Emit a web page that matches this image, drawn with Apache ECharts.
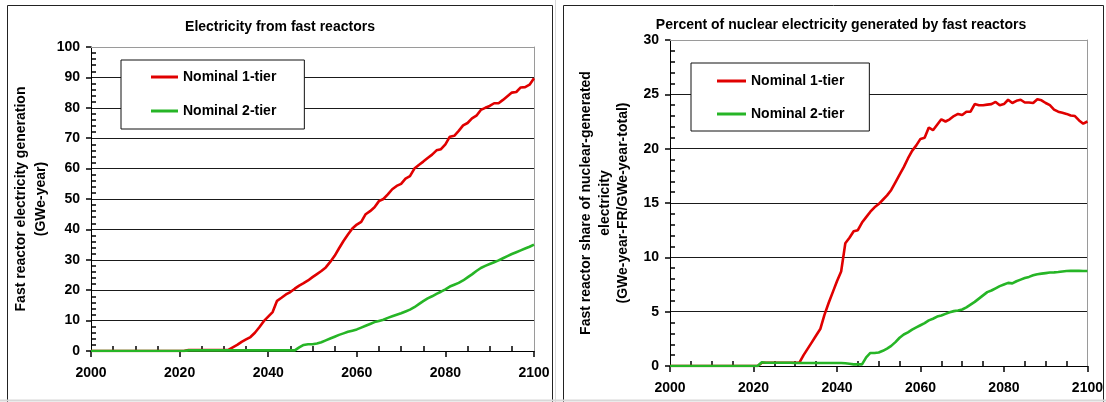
<!DOCTYPE html>
<html>
<head>
<meta charset="utf-8">
<script src="https://cdn.jsdelivr.net/npm/echarts@6/dist/echarts.min.js"></script>
<style>
html,body{margin:0;padding:0;background:#fff;}
#c{width:1106px;height:402px;}
</style>
</head>
<body>
<div id="c"></div>
<script>
// ---------- data ----------
const startYear = 2000, endYear = 2100;
const seriesNames = ['Nominal 1-tier', 'Nominal 2-tier'];
const leftTitle = 'Electricity from fast reactors';
const rightTitle = 'Percent of nuclear electricity generated by fast reactors';
const leftYName = 'Fast reactor electricity generation\n(GWe-year)';
const rightYName = 'Fast reactor share of nuclear-generated\nelectricity\n(GWe-year-FR/GWe-year-total)';

// GWe-year, one value per year 2000..2100
const leftTier1 = [
  0,0,0,0,0,0,0,0,0,0,
  0,0,0,0,0,0,0,0,0,0,
  0,0,0.35,0.35,0.35,0.35,0.35,0.35,0.35,0.35,
  0.35,0.4,1.2,2,3,3.8,4.6,6,7.8,9.8,
  11.3,12.8,16.5,17.5,18.6,19.4,20.5,21.5,22.3,23.2,
  24.3,25.3,26.3,27.5,29.3,31.3,33.8,36.2,38.3,40.3,
  41.6,42.5,45,46,47.3,49.3,50,51.5,53.2,54.3,
  55,56.7,57.5,60,61.2,62.3,63.5,64.6,66,66.4,
  68,70.5,70.8,72.4,74.2,75,76.5,77.4,79.3,80,
  80.6,81.5,81.5,82.6,83.8,85,85.2,86.7,86.8,87.6,
  89.7
];
const leftTier2 = [
  0,0,0,0,0,0,0,0,0,0,
  0,0,0,0,0,0,0,0,0,0,
  0,0,0.2,0.2,0.2,0.2,0.2,0.2,0.2,0.2,
  0.2,0.2,0.2,0.2,0.2,0.2,0.2,0.2,0.2,0.2,
  0.2,0.2,0.2,0.2,0.2,0.2,0.2,1.2,2.0,2.2,
  2.2,2.5,2.9,3.5,4.1,4.7,5.3,5.8,6.3,6.7,
  7.1,7.7,8.3,8.9,9.5,9.9,10.3,10.9,11.4,11.9,
  12.4,13,13.6,14.4,15.4,16.4,17.3,18,18.8,19.5,
  20.3,21.2,21.8,22.4,23.2,24.2,25.2,26.3,27.3,28,
  28.6,29.2,29.8,30.5,31.2,31.9,32.5,33.1,33.7,34.3,
  35
];
// percent, one value per year 2000..2100
const rightTier1 = [
  0,0,0,0,0,0,0,0,0,0,
  0,0,0,0,0,0,0,0,0,0,
  0,0,0.3,0.3,0.3,0.3,0.3,0.3,0.3,0.3,
  0.3,0.3,1.0,1.6,2.2,2.8,3.4,4.7,5.8,6.8,
  7.8,8.7,11.3,11.8,12.4,12.5,13.2,13.7,14.2,14.6,
  14.9,15.3,15.7,16.2,16.9,17.6,18.3,19.1,19.8,20.3,
  20.9,21.0,21.95,21.7,22.2,22.7,22.5,22.7,23.0,23.2,
  23.1,23.4,23.4,24.1,24.0,24.0,24.05,24.1,24.3,24.0,
  24.1,24.5,24.2,24.4,24.5,24.25,24.25,24.2,24.55,24.45,
  24.2,24.0,23.6,23.4,23.3,23.2,23.05,23.0,22.6,22.3,
  22.5
];
const rightTier2 = [
  0,0,0,0,0,0,0,0,0,0,
  0,0,0,0,0,0,0,0,0,0,
  0,0,0.35,0.3,0.3,0.3,0.3,0.3,0.3,0.3,
  0.28,0.28,0.28,0.28,0.28,0.28,0.28,0.28,0.28,0.28,
  0.28,0.28,0.25,0.2,0.15,0.15,0.15,0.8,1.2,1.2,
  1.25,1.4,1.6,1.85,2.2,2.6,2.9,3.1,3.35,3.55,
  3.75,3.95,4.2,4.35,4.55,4.65,4.8,4.95,5.05,5.1,
  5.2,5.4,5.65,5.9,6.2,6.5,6.8,6.95,7.15,7.35,
  7.5,7.65,7.6,7.8,7.95,8.1,8.2,8.35,8.45,8.5,
  8.55,8.6,8.62,8.65,8.7,8.74,8.75,8.75,8.75,8.74,
  8.74
];

// ---------- build ----------
const years = [];
for (let y = startYear; y <= endYear; y++) years.push(y);
const pairs = vals => years.map((y, i) => [y, vals[i]]);

const FONT = 'Liberation Sans, Arial, Helvetica, sans-serif';
const RED = '#e00000', GREEN = '#26b526';
const labelStyle = { color: '#000', fontWeight: 'bold', fontSize: 14, fontFamily: FONT };

function mainX(grid) {
  return {
    type: 'value', gridIndex: grid, min: startYear, max: endYear, interval: 20, position: 'bottom',
    axisLine: { show: true, lineStyle: { color: '#000', width: 1 } },
    axisTick: { show: true, inside: false, length: 6, lineStyle: { color: '#000', width: 1.5 } },
    minorTick: { show: true, splitNumber: 4, length: -5, lineStyle: { color: '#000', width: 1.5 } },
    axisLabel: Object.assign({ margin: 15, formatter: v => String(v) }, labelStyle),
    splitLine: { show: false }
  };
}
function borderX(grid) {
  return {
    type: 'value', gridIndex: grid, min: startYear, max: endYear, interval: 20, position: 'top',
    axisLine: { show: true, onZero: false, lineStyle: { color: '#9a9a9a', width: 1 } },
    axisTick: { show: false }, axisLabel: { show: false }, splitLine: { show: false }
  };
}
function mainY(grid, max, interval) {
  return {
    type: 'value', gridIndex: grid, min: 0, max: max, interval: interval, position: 'left',
    axisLine: { show: true, lineStyle: { color: '#000', width: 1 } },
    axisTick: { show: true, inside: false, length: 5, lineStyle: { color: '#000', width: 1.5 } },
    minorTick: { show: true, splitNumber: 5, length: -5, lineStyle: { color: '#000', width: 1.5 } },
    axisLabel: Object.assign({ margin: 11, formatter: v => String(v) }, labelStyle),
    splitLine: { show: true, lineStyle: { color: '#1a1a1a', width: 1 } }
  };
}
function borderY(grid, max, interval) {
  return {
    type: 'value', gridIndex: grid, min: 0, max: max, interval: interval, position: 'right',
    axisLine: { show: true, onZero: false, lineStyle: { color: '#9a9a9a', width: 1 } },
    axisTick: { show: false }, axisLabel: { show: false }, splitLine: { show: false }
  };
}
function lineSeries(name, x, y, data, color) {
  return {
    type: 'line', name: name, xAxisIndex: x, yAxisIndex: y, data: data,
    showSymbol: false, symbol: 'none', animation: false,
    lineStyle: { color: color, width: 2.6 }, itemStyle: { color: color }
  };
}
function legendBox(left, top, padding, itemWidth, itemGap) {
  return {
    show: true, orient: 'vertical', left: left, top: top,
    data: seriesNames, icon: 'rect', itemWidth: itemWidth, itemHeight: 3,
    itemGap: itemGap, itemTextGap: 3, padding: padding,
    backgroundColor: '#fff', borderColor: '#111', borderWidth: 1, borderRadius: 0,
    selectedMode: false,
    textStyle: { color: '#000', fontWeight: 'bold', fontSize: 14, fontFamily: FONT, lineHeight: 16 }
  };
}

const chart = echarts.init(document.getElementById('c'));
chart.setOption({
  animation: false,
  grid: [
    { left: 91, right: 572, top: 47, bottom: 51 },
    { left: 670, right: 16, top: 40, bottom: 36 }
  ],
  xAxis: [mainX(0), mainX(1), borderX(0), borderX(1)],
  yAxis: [mainY(0, 100, 10), mainY(1, 30, 5), borderY(0, 100, 10), borderY(1, 30, 5)],
  legend: [
    legendBox(121, 60, [9, 28, 10, 30], 27, 18),
    legendBox(691, 63, [10, 25, 9, 26], 29, 17)
  ],
  series: [
    lineSeries(seriesNames[0], 0, 0, pairs(leftTier1), RED),
    lineSeries(seriesNames[1], 0, 0, pairs(leftTier2), GREEN),
    lineSeries(seriesNames[0], 1, 1, pairs(rightTier1), RED),
    lineSeries(seriesNames[1], 1, 1, pairs(rightTier2), GREEN)
  ],
  graphic: [
    { type: 'rect', silent: true, z: -1, shape: { x: 7.5, y: 5.5, width: 545, height: 410 },
      style: { fill: null, stroke: '#222', lineWidth: 1 } },
    { type: 'rect', silent: true, z: -1, shape: { x: 563.5, y: 5.5, width: 540, height: 410 },
      style: { fill: null, stroke: '#222', lineWidth: 1 } },
    { type: 'line', silent: true, shape: { x1: 555.5, y1: 0, x2: 555.5, y2: 402 },
      style: { stroke: '#d8d8d8', lineWidth: 1 } },
    { type: 'line', silent: true, shape: { x1: 0, y1: 400.5, x2: 1106, y2: 400.5 },
      style: { stroke: '#d8d8d8', lineWidth: 2 } },
    { type: 'text', silent: true, x: 280, y: 27,
      style: { text: leftTitle, textAlign: 'center', textVerticalAlign: 'middle',
               font: 'bold 14px ' + FONT, fill: '#000' } },
    { type: 'text', silent: true, x: 841, y: 25,
      style: { text: rightTitle, textAlign: 'center', textVerticalAlign: 'middle',
               font: 'bold 14px ' + FONT, fill: '#000' } },
    { type: 'text', silent: true, x: 31, y: 199, rotation: Math.PI / 2,
      style: { text: leftYName, textAlign: 'center', textVerticalAlign: 'middle',
               font: 'bold 14px ' + FONT, fill: '#000', lineHeight: 20 } },
    { type: 'text', silent: true, x: 605, y: 203, rotation: Math.PI / 2,
      style: { text: rightYName, textAlign: 'center', textVerticalAlign: 'middle',
               font: 'bold 14px ' + FONT, fill: '#000', lineHeight: 18.5 } }
  ]
});
</script>
</body>
</html>
